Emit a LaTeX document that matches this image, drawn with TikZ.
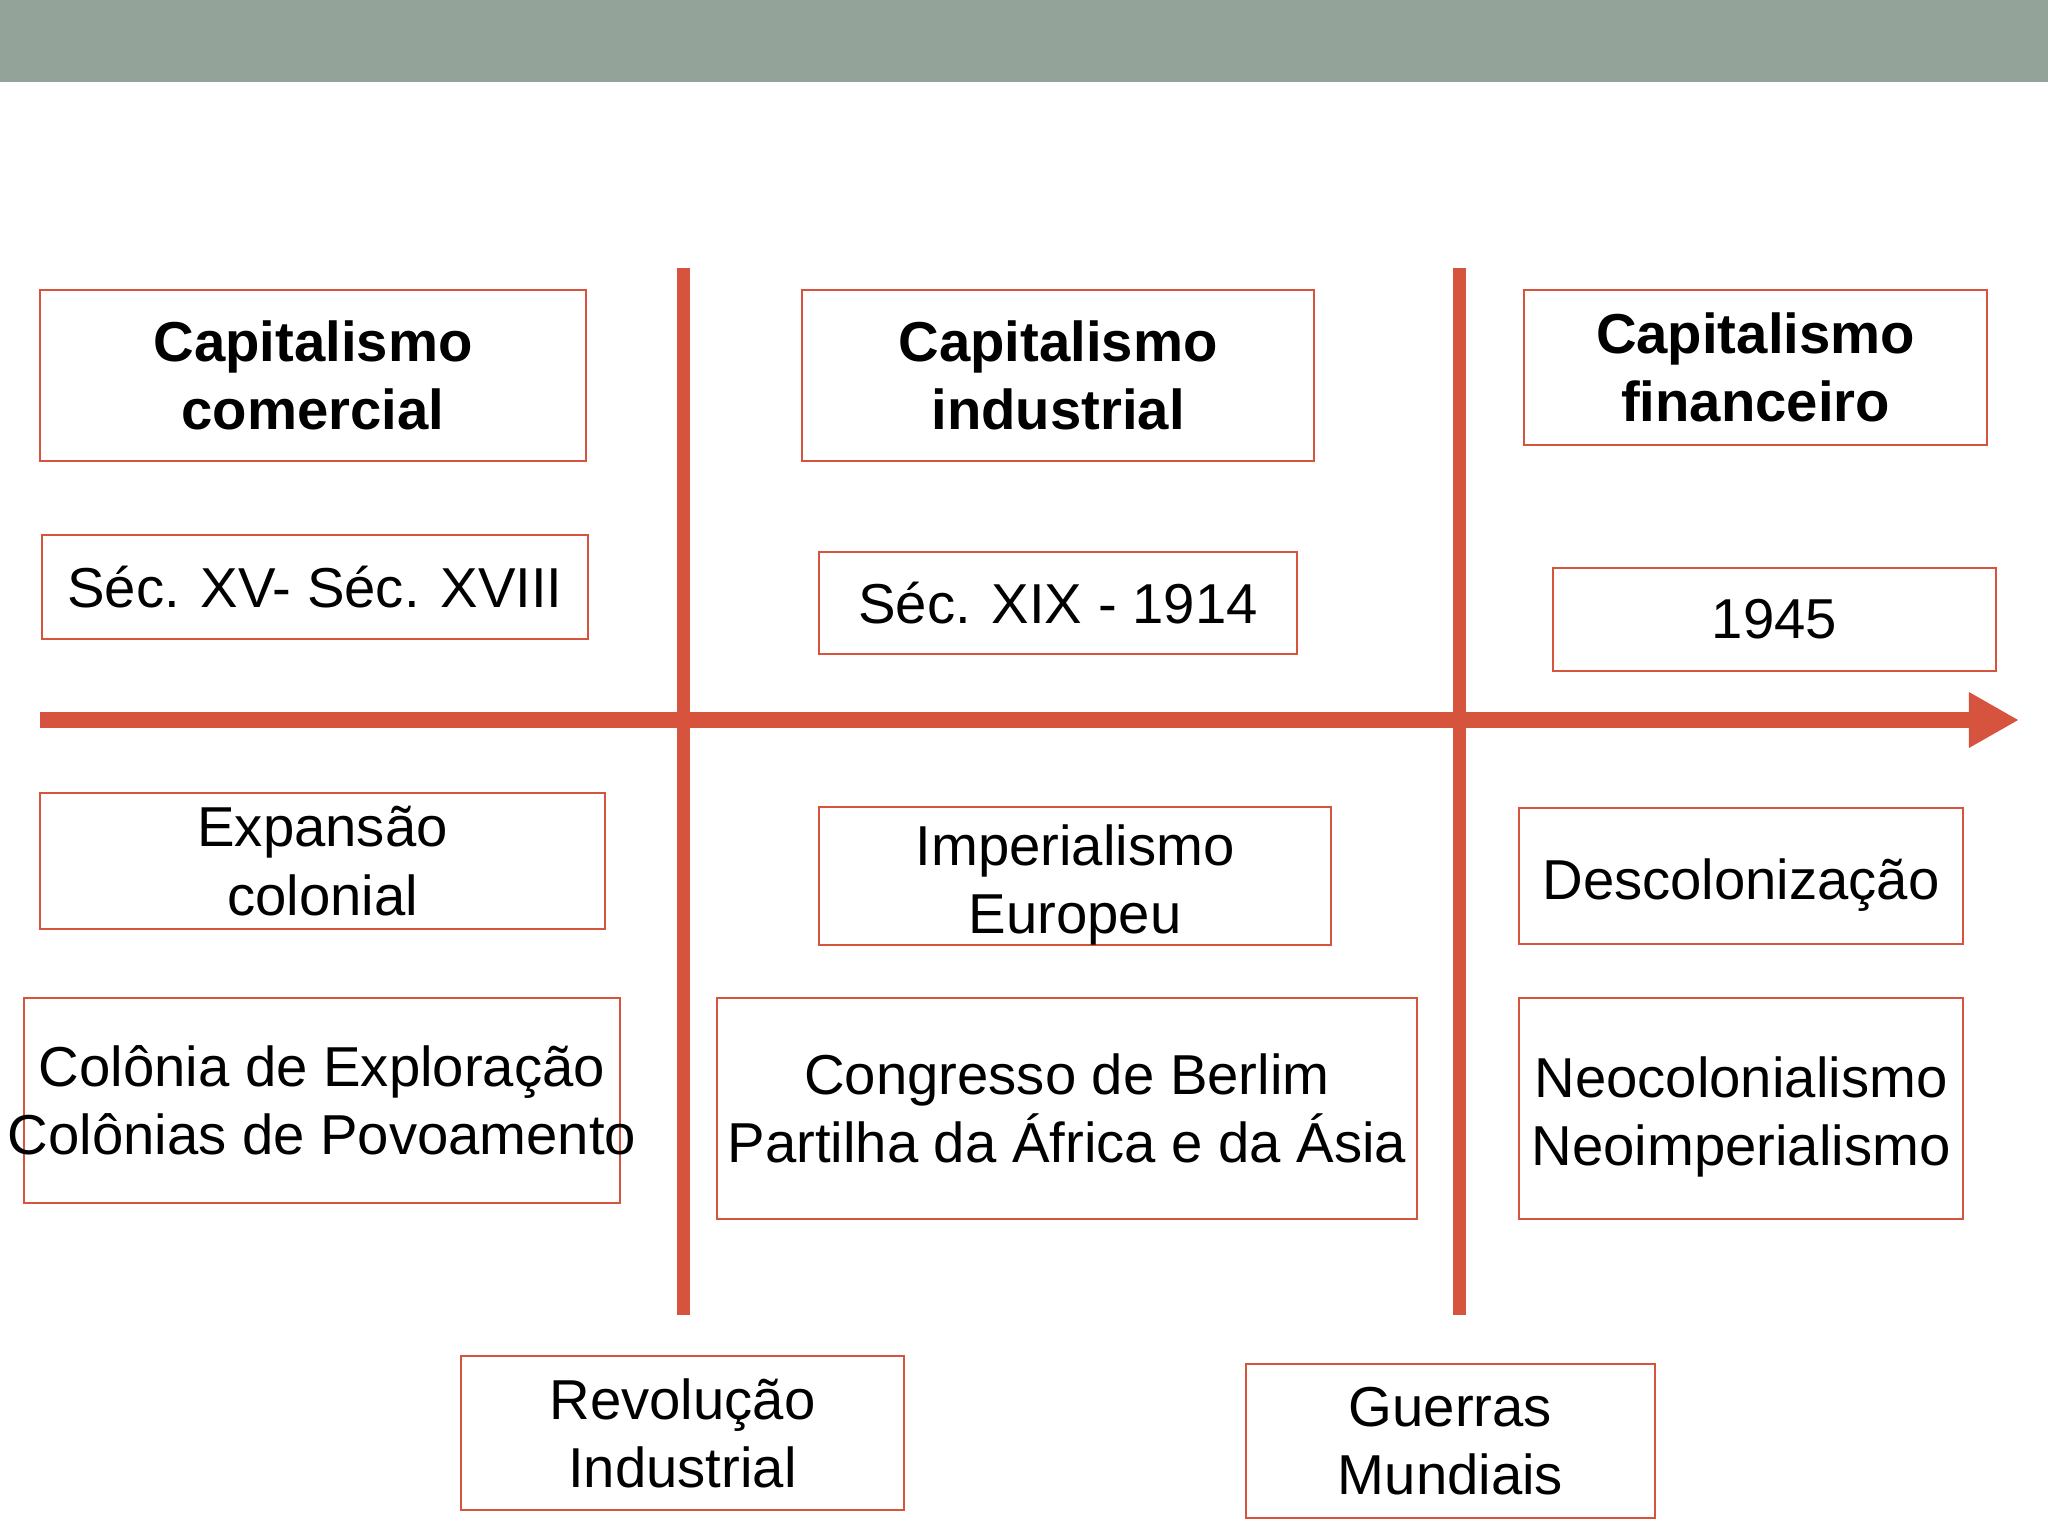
\documentclass[tikz,border=0pt]{standalone}
\usepackage{fontspec}
\setmainfont{Liberation Sans}
\usetikzlibrary{arrows.meta}
\definecolor{barra}{RGB}{147,163,154}
\definecolor{verm}{RGB}{214,84,62}
\newcommand{\desce}{\rule{0pt}{0.58cm}}

\begin{document}
\begin{tikzpicture}[x=0.01cm,y=-0.01cm,
  box/.style={draw=verm,line width=0.6pt,inner sep=0pt,align=center,
    font=\fontsize{16}{19.4}\selectfont},
  titulo/.style={box,font=\fontsize{16}{19.4}\selectfont\bfseries},
  eixo/.style={verm,line width=0.16cm,-{Triangle[length=0.5cm,width=0.52cm]}},
  marco/.style={verm,line width=0.13cm}]
\fill [white] (0,0) rectangle (2048,1536);
\fill [barra] (0,0) rectangle (2048,82);
% periods
\node [titulo,minimum width=5.46cm,minimum height=1.71cm] (comercial) at (313,375.5) {Capitalismo\\comercial};
\node [titulo,minimum width=5.12cm,minimum height=1.71cm] (industrial) at (1058,375.5) {Capitalismo\\industrial};
\node [titulo,minimum width=4.63cm,minimum height=1.55cm] (financeiro) at (1755.5,367.5) {Capitalismo\\financeiro};
% dates
\node [box,minimum width=5.46cm,minimum height=1.04cm] (secxv) at (315,587) {Séc. XV- Séc. XVIII};
\node [box,minimum width=4.78cm,minimum height=1.02cm] (secxix) at (1058,603) {Séc. XIX - 1914};
\node [box,minimum width=4.43cm,minimum height=1.03cm] (ano) at (1774.5,619.5) {1945};
% timeline
\coordinate (inicio) at (40,720);
\coordinate (fim) at (2019,720);
\coordinate (rev top) at (683,268);
\coordinate (rev bot) at (683,1315);
\coordinate (guerra top) at (1459,268);
\coordinate (guerra bot) at (1459,1315);
\draw [eixo] (inicio) -- (fim);
\draw [marco] (rev top) -- (rev bot);
\draw [marco] (guerra top) -- (guerra bot);
% below the axis
\node [box,minimum width=5.65cm,minimum height=1.36cm] (expansao) at (322.5,861) {Expansão\\colonial};
\node [box,minimum width=5.12cm,minimum height=1.36cm] (imperialismo) at (1075,876) {\desce Imperialismo\\Europeu};
\node [box,minimum width=4.44cm,minimum height=1.36cm] (descol) at (1741,876) {\desce Descolonização};
\node [box,minimum width=5.96cm,minimum height=2.05cm] (colonias) at (322,1100.5)
  {\makebox[5.5cm]{Colônia de Exploração}\\\makebox[5.5cm]{Colônias de Povoamento}};
\node [box,minimum width=7cm,minimum height=2.21cm] (congresso) at (1067,1108.5) {Congresso de Berlim\\Partilha da África e da Ásia};
\node [box,minimum width=4.44cm,minimum height=2.21cm] (neocol) at (1741,1108.5) {\desce Neocolonialismo\\Neoimperialismo};
% events
\node [box,minimum width=4.43cm,minimum height=1.54cm] (revolucao) at (682.5,1433) {Revolução\\Industrial};
\node [box,minimum width=4.09cm,minimum height=1.54cm] (guerras) at (1450.5,1441) {Guerras\\Mundiais};
\end{tikzpicture}
\end{document}
